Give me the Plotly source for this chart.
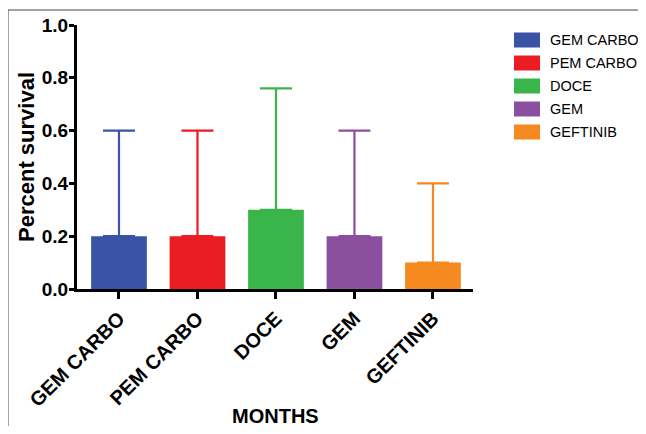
import plotly.graph_objects as go

categories = ["GEM CARBO", "PEM CARBO", "DOCE", "GEM", "GEFTINIB"]
survival = [0.2, 0.2, 0.3, 0.2, 0.1]
error_up = [0.4, 0.4, 0.46, 0.4, 0.3]
colors = ["#3A53A4", "#EC1C24", "#39B54A", "#8B4F9F", "#F6891F"]
y_ticks = [0.0, 0.2, 0.4, 0.6, 0.8, 1.0]
x_title = "MONTHS"
y_title = "Percent survival"

# page body has an 8px margin; figure sized so nothing scrolls
OFF = 8
W, H = 630, 418
L, T = 77 - OFF, 25 - OFF
R = W - (473 - OFF)
B = H - (289 - OFF)
pw, ph = W - L - R, H - T - B

fig = go.Figure()
for i, cat in enumerate(categories):
    fig.add_trace(go.Bar(
        x=[cat], y=[survival[i]], name=cat,
        marker=dict(color=colors[i], line=dict(width=0)),
        width=0.71,
        error_y=dict(type="data", symmetric=False, array=[error_up[i]], arrayminus=[0],
                     color=colors[i], thickness=2.2, width=16),
        showlegend=False,
    ))

font_b = "Liberation Sans"

fig.update_layout(
    width=W, height=H,
    margin=dict(l=L, r=R, t=T, b=B, autoexpand=False),
    paper_bgcolor="white", plot_bgcolor="white",
    xaxis=dict(
        range=[-0.535, 4.51], showgrid=False, zeroline=False,
        showline=True, linecolor="black", linewidth=3,
        ticks="outside", ticklen=7, tickwidth=3, tickcolor="black",
        tickangle=-45,
        tickfont=dict(family=font_b, size=20, color="black", weight="bold"),
    ),
    yaxis=dict(
        range=[0, 1.0], tickvals=y_ticks, ticktext=[f"{v:.1f}" for v in y_ticks],
        showgrid=False, zeroline=False,
        showline=True, linecolor="black", linewidth=3,
        ticks="outside", ticklen=5, tickwidth=3, tickcolor="black",
        ticklabelstandoff=-3,
        tickfont=dict(family=font_b, size=19, color="black", weight="bold"),
        title=dict(text=f"<b>{y_title}</b>", font=dict(family=font_b, size=22, color="black"), standoff=2),
    ),
)

def px2x(p):
    return (p - OFF - L) / pw

def py2y(p):
    return (H - B - (p - OFF)) / ph

# x-axis title
fig.add_annotation(xref="paper", yref="paper", x=0.5, y=py2y(416),
                   text=f"<b>{x_title}</b>", showarrow=False,
                   xanchor="center", yanchor="middle",
                   font=dict(family=font_b, size=20, color="black"))

# outer frame
fig.add_shape(type="rect", xref="paper", yref="paper",
              x0=px2x(8), x1=px2x(643), y0=py2y(470), y1=py2y(10),
              line=dict(color="#444444", width=1), fillcolor="rgba(0,0,0,0)", layer="below")

# legend
leg_x0, leg_w, leg_h = 514, 26, 15
leg_y = [40, 63, 86, 109, 132]
for i, cat in enumerate(categories):
    yc = leg_y[i]
    fig.add_shape(type="rect", xref="paper", yref="paper",
                  x0=px2x(leg_x0), x1=px2x(leg_x0 + leg_w),
                  y0=py2y(yc + leg_h / 2), y1=py2y(yc - leg_h / 2),
                  fillcolor=colors[i], line=dict(width=0))
    fig.add_annotation(xref="paper", yref="paper", x=px2x(548), y=py2y(yc),
                       text=cat, showarrow=False, xanchor="left", yanchor="middle",
                       font=dict(family=font_b, size=14.5, color="black"))

fig.write_html("out.html")
